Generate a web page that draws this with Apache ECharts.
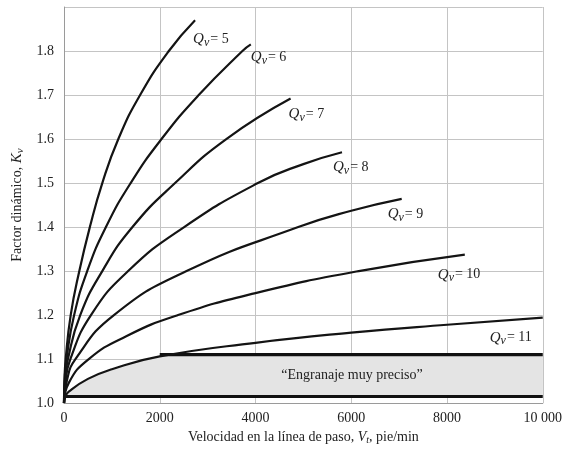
<!DOCTYPE html>
<html>
<head>
<meta charset="utf-8">
<script src="https://cdn.jsdelivr.net/npm/echarts@6/dist/echarts.min.js"></script>
<style>
	html, body {margin: 0; background: #fff;}
	#chart {width: 565px; height: 450px;}
</style>
</head>
<body>
<div id="chart"></div>
<script>
// puntos: [velocidad pie/min, Kv]
const qv5 = [[0, 1], [9, 1.05], [35, 1.1], [140, 1.2], [320, 1.3], [540, 1.4], [800, 1.5], [1135, 1.6], [1590, 1.7], [2190, 1.8], [2738, 1.87]];
const qv6 = [[0, 1], [13, 1.05], [52, 1.1], [212, 1.2], [485, 1.3], [876, 1.4], [1392, 1.5], [2037, 1.6], [2814, 1.7], [3727, 1.8], [3902, 1.815]];
const qv7 = [[0, 1], [20, 1.05], [82, 1.1], [339, 1.2], [800, 1.3], [1430, 1.4], [2320, 1.5], [3390, 1.6], [4733, 1.692]];
const qv8 = [[0, 1], [30, 1.048], [133, 1.1], [563, 1.2], [1340, 1.3], [2510, 1.4], [4050, 1.5], [5000, 1.543], [5807, 1.57]];
const qv9 = [[0, 1], [60, 1.051], [239, 1.1], [1043, 1.2], [2560, 1.3], [4893, 1.4], [6000, 1.437], [7054, 1.464]];
const qv10 = [[0, 1], [100, 1.046], [517, 1.1], [1300, 1.152], [2383, 1.2], [4000, 1.25], [6157, 1.3], [8372, 1.3375]];
const qv11 = [[0, 1], [30, 1.015], [100, 1.026], [500, 1.055], [1000, 1.077], [2000, 1.106], [4000, 1.137], [6000, 1.16], [8000, 1.178], [10000, 1.194]];

// banda "engranaje muy preciso"
const bandLow = 1.015;
const bandHigh = 1.11;
const bandStart = 2000;
const bandText = '“Engranaje muy preciso”';

const xMax = 10000;
const yMin = 1.0;
const yMax = 1.9;

const serif = 'Liberation Serif';
const bandGray = '#e4e4e4';

const subRich = {
	q: {fontFamily: serif, fontStyle: 'italic', fontSize: 15, color: '#222'},
	v: {fontFamily: serif, fontStyle: 'italic', fontSize: 12, color: '#222', padding: [7, 1, 0, 0]},
	t: {fontFamily: serif, fontSize: 14, color: '#222'}
};

function curve(q, data, offset) {
	return {
		name: 'Qv=' + q,
		type: 'line',
		data: data,
		smooth: 0.5,
		symbol: 'none',
		silent: true,
		z: 5,
		lineStyle: {color: '#141414', width: 2.2},
		endLabel: {
			show: true,
			formatter: '{q|Q}{v|v}{t|= ' + q + '}',
			offset: offset,
			rich: subRich
		}
	};
}

function flatLine(x0, y) {
	return {
		type: 'line',
		data: [[x0, y], [xMax, y]],
		symbol: 'none',
		silent: true,
		z: 4,
		lineStyle: {color: '#111', width: 3.2}
	};
}

// relleno gris: debajo de Qv=11 hasta la union con la linea 1.11
const bandTop = qv11.filter(p => p[0] <= bandStart).concat([[bandStart + 200, bandHigh], [xMax, bandHigh]]);

const chart = echarts.init(document.getElementById('chart'));

const topLine = flatLine(bandStart, bandHigh);
topLine.markArea = {
	silent: true,
	z: 3,
	itemStyle: {color: bandGray},
	label: {
		show: true,
		position: 'inside',
		offset: [-4, 0],
		fontFamily: serif,
		fontSize: 14,
		color: '#222'
	},
	data: [[{name: bandText, xAxis: bandStart + 200, yAxis: bandLow}, {xAxis: xMax, yAxis: bandHigh}]]
};

const option = {
	animation: false,
	grid: {left: 64, right: 20, top: 7, bottom: 46},
	xAxis: {
		type: 'value',
		min: 0,
		max: xMax,
		interval: 2000,
		name: 'Velocidad en la línea de paso, {i|V}{s|t}, pie/min',
		nameLocation: 'middle',
		nameGap: 25,
		nameTextStyle: {
			fontFamily: serif,
			fontSize: 14,
			color: '#222',
			rich: {
				i: {fontFamily: serif, fontStyle: 'italic', fontSize: 14, color: '#222'},
				s: {fontFamily: serif, fontStyle: 'italic', fontSize: 10, color: '#222', padding: [6, 0, 0, 0]}
			}
		},
		axisLine: {lineStyle: {color: '#9a9a9a'}},
		axisTick: {show: false},
		axisLabel: {
			fontFamily: serif,
			fontSize: 14,
			color: '#222',
			margin: 8,
			formatter: function (v) {
				return v === 10000 ? '10 000' : String(v);
			}
		},
		splitLine: {lineStyle: {color: '#c4c4c4', width: 1}}
	},
	yAxis: {
		type: 'value',
		min: yMin,
		max: yMax,
		interval: 0.1,
		name: 'Factor dinámico, {i|K}{s|v}',
		nameLocation: 'middle',
		nameGap: 37,
		nameRotate: 90,
		nameTextStyle: {
			fontFamily: serif,
			fontSize: 14,
			color: '#222',
			rich: {
				i: {fontFamily: serif, fontStyle: 'italic', fontSize: 15, color: '#222'},
				s: {fontFamily: serif, fontStyle: 'italic', fontSize: 11, color: '#222', padding: [6, 0, 0, 0]}
			}
		},
		axisLine: {show: true, lineStyle: {color: '#9a9a9a'}},
		axisTick: {show: false},
		axisLabel: {
			fontFamily: serif,
			fontSize: 14,
			color: '#222',
			margin: 10,
			formatter: function (v) {
				return v > 1.85 ? '' : v.toFixed(1);
			}
		},
		splitLine: {lineStyle: {color: '#c4c4c4', width: 1}}
	},
	series: [
		{
			type: 'line',
			data: bandTop,
			smooth: 0.5,
			symbol: 'none',
			silent: true,
			z: 2,
			lineStyle: {width: 0},
			areaStyle: {color: bandGray, opacity: 1, origin: bandLow}
		},
		topLine,
		flatLine(0, bandLow),
		curve(5, qv5, [-10, 19]),
		curve(6, qv6, [-8, 13]),
		curve(7, qv7, [-10, 16]),
		curve(8, qv8, [-17, 15]),
		curve(9, qv9, [-22, 15]),
		curve(10, qv10, [-35, 20]),
		curve(11, qv11, [-61, 20])
	]
};

chart.setOption(option);
</script>
</body>
</html>
